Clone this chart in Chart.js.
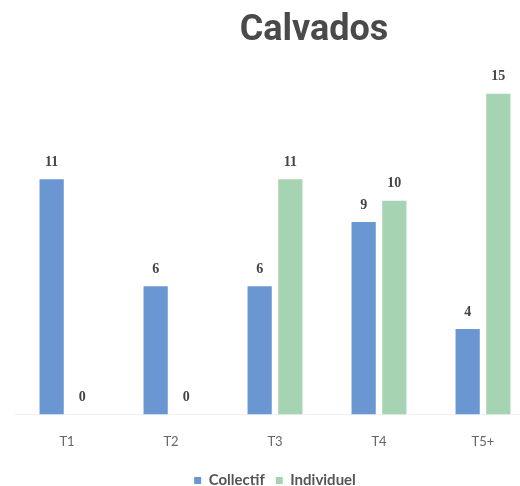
<!DOCTYPE html>
<html>
<head>
<meta charset="utf-8">
<script src="https://cdn.jsdelivr.net/npm/chart.js@4"></script>
<style>
  html, body { margin: 0; padding: 0; background: #fff; overflow: hidden; height: 486px; }
  #wrap { position: relative; width: 540px; height: 498px; }
  #title {
    position: absolute; top: 10px; left: 194px; width: 240px;
    text-align: center; font: bold 36px Roboto, sans-serif; line-height: 36px;
    color: #4a4a4a; z-index: 2;
  }
</style>
</head>
<body>
<div id="wrap">
  <div id="title">Calvados</div>
  <canvas id="calvadosChart"></canvas>
</div>
<script>
const categories = ['T1', 'T2', 'T3', 'T4', 'T5+'];
const collectif = [11, 6, 6, 9, 4];
const individuel = [0, 0, 11, 10, 15];

// writes each bar's value just above it
const valueLabels = {
    id: 'valueLabels',
    afterDatasetsDraw(chart) {
        const ctx = chart.ctx;
        ctx.save();
        ctx.font = 'bold 14px "Liberation Serif", serif';
        ctx.fillStyle = '#444';
        ctx.textAlign = 'center';
        ctx.textBaseline = 'middle';
        chart.data.datasets.forEach((ds, i) => {
            chart.getDatasetMeta(i).data.forEach((bar, j) => {
                ctx.fillText(ds.data[j], bar.x, bar.y - 17);
            });
        });
        ctx.restore();
    }
};

const ctx = document.getElementById('calvadosChart').getContext('2d');
const myChart = new Chart(ctx, {
    type: 'bar',
    data: {
        labels: categories,
        datasets: [
            {
                label: 'Collectif',
                data: collectif,
                backgroundColor: '#6a97d1',
                categoryPercentage: 0.59,
                barPercentage: 0.79
            },
            {
                label: 'Individuel',
                data: individuel,
                backgroundColor: '#a6d4b2',
                categoryPercentage: 0.59,
                barPercentage: 0.79
            }
        ]
    },
    options: {
        responsive: true,
        maintainAspectRatio: false,
        animation: false,
        layout: { padding: { top: 51, left: 15, right: 5, bottom: 0 } },
        plugins: {
            title: { display: false },
            tooltip: { enabled: false },
            legend: {
                position: 'bottom',
                labels: {
                    boxWidth: 7,
                    boxHeight: 7,
                    padding: 11,
                    color: '#555',
                    font: { family: 'Lato', size: 15, weight: 'bold' }
                }
            }
        },
        scales: {
            x: {
                grid: { display: false },
                border: { color: '#f0f0f0' },
                ticks: {
                    color: '#666',
                    padding: 12,
                    font: { family: 'Lato', size: 13 }
                }
            },
            y: {
                display: false,
                min: 0,
                max: 17
            }
        }
    },
    plugins: [valueLabels]
});
</script>
</body>
</html>
